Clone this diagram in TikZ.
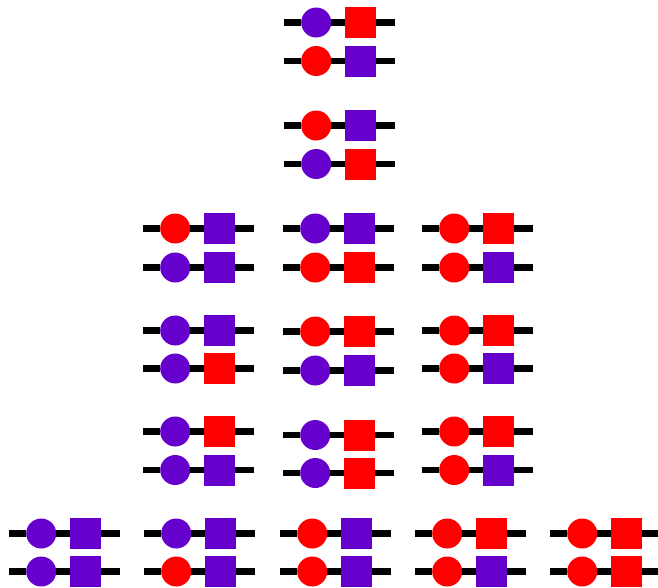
\documentclass[tikz,border=0pt]{standalone}
\usepackage{tikz}
\usetikzlibrary{positioning}
\definecolor{beadPurple}{HTML}{6600CC}
\definecolor{beadRed}{HTML}{FF0000}

% one strand: name, left end x, y, circle colour, square colour
\newcommand{\strand}[5]{%
  \coordinate (#1w) at (#2,#3);
  \node[bead, fill=#4, right=17pt of #1w] (#1c) {};
  \node[box, fill=#5, right=13.5pt of #1c] (#1s) {};
  \coordinate[right=18.5pt of #1s] (#1e);
  \draw[wire] (#1w) -- (#1c);
  \draw[wire] (#1c) -- (#1s);
  \draw[wire] (#1s) -- (#1e);
}

\begin{document}
\begin{tikzpicture}[
      x=1pt, y=-1pt,
      bead/.style={circle, draw=none, minimum size=30pt, inner sep=0pt},
      box/.style={rectangle, draw=none, minimum size=31pt, inner sep=0pt},
      wire/.style={draw=black, line width=6.5pt}
    ]
      \useasboundingbox (0,0) rectangle (658,587);

      % top column
      \strand{a1}{284}{22.5}{beadPurple}{beadRed}
      \strand{a2}{284}{61}{beadRed}{beadPurple}
      \strand{b1}{284}{125.5}{beadRed}{beadPurple}
      \strand{b2}{284}{164}{beadPurple}{beadRed}

      % three columns
      \strand{c1}{143}{228.5}{beadRed}{beadPurple}
      \strand{c2}{143}{267.5}{beadPurple}{beadPurple}
      \strand{d1}{283}{228.5}{beadPurple}{beadPurple}
      \strand{d2}{283}{267.5}{beadRed}{beadRed}
      \strand{e1}{422}{228.5}{beadRed}{beadRed}
      \strand{e2}{422}{267.5}{beadRed}{beadPurple}

      \strand{f1}{143}{330.5}{beadPurple}{beadPurple}
      \strand{f2}{143}{368.5}{beadPurple}{beadRed}
      \strand{g1}{283}{331.5}{beadRed}{beadRed}
      \strand{g2}{283}{370.5}{beadPurple}{beadPurple}
      \strand{h1}{422}{330.5}{beadRed}{beadRed}
      \strand{h2}{422}{368.5}{beadRed}{beadPurple}

      \strand{i1}{143}{431.5}{beadPurple}{beadRed}
      \strand{i2}{143}{470}{beadPurple}{beadPurple}
      \strand{j1}{283}{435}{beadPurple}{beadRed}
      \strand{j2}{283}{473}{beadPurple}{beadRed}
      \strand{k1}{422}{431.5}{beadRed}{beadRed}
      \strand{k2}{422}{470}{beadRed}{beadPurple}

      % bottom row
      \strand{m1}{9}{533.5}{beadPurple}{beadPurple}
      \strand{m2}{9}{571.5}{beadPurple}{beadPurple}
      \strand{n1}{144}{533.5}{beadPurple}{beadPurple}
      \strand{n2}{144}{571.5}{beadRed}{beadPurple}
      \strand{o1}{280}{533.5}{beadRed}{beadPurple}
      \strand{o2}{280}{571.5}{beadRed}{beadPurple}
      \strand{p1}{415}{533.5}{beadRed}{beadRed}
      \strand{p2}{415}{571.5}{beadRed}{beadPurple}
      \strand{q1}{550}{533.5}{beadRed}{beadRed}
      \strand{q2}{550}{571.5}{beadRed}{beadRed}
    \end{tikzpicture}
\end{document}
